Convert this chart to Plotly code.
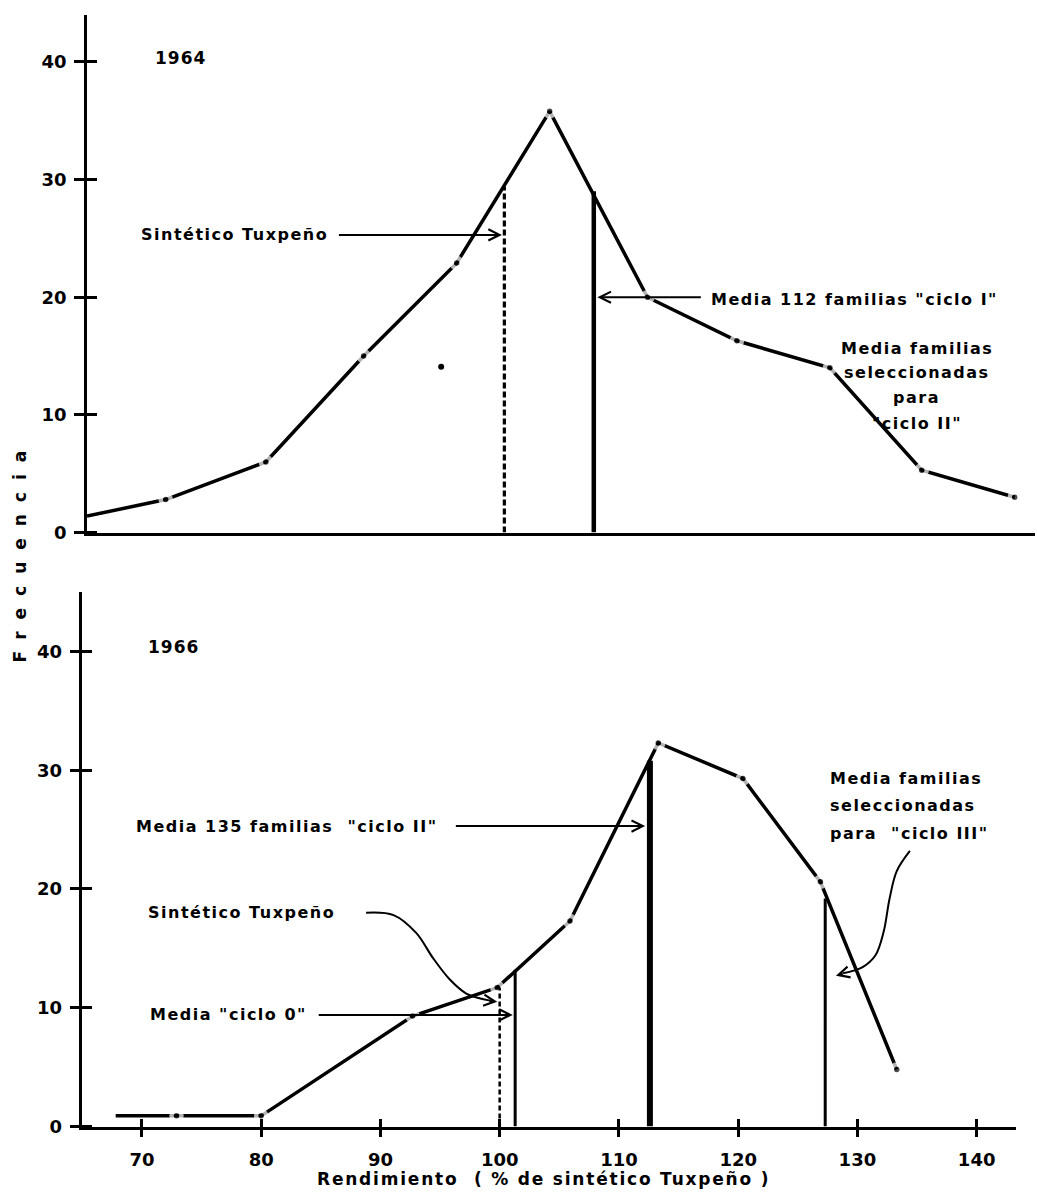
import plotly.graph_objects as go

W, H = 1037, 1201

# ---------------- data ----------------
# 1964 frequency polygon
yield_1964 = [65.0, 71.6, 80.0, 88.2, 96.0, 103.8, 112.0, 119.5, 127.3, 135.0, 142.8]
freq_1964 = [1.4, 2.8, 6.0, 15.0, 22.9, 35.8, 20.0, 16.3, 14.0, 5.3, 3.0]
stray_1964_x = [94.7]
stray_1964_y = [14.1]
# 1964 reference means
tuxpeno_1964 = 100.0
tuxpeno_1964_h = 29.4
ciclo1_mean = 107.5
ciclo1_mean_h = 29.0

# 1966 frequency polygon
yield_1966 = [67.8, 72.9, 80.0, 92.7, 99.8, 105.9, 113.3, 120.4, 126.9, 133.3]
freq_1966 = [0.9, 0.9, 0.9, 9.3, 11.7, 17.3, 32.3, 29.3, 20.6, 4.8]
# 1966 reference means
tuxpeno_1966 = 100.0
tuxpeno_1966_h = 11.7
ciclo0_mean = 101.3
ciclo0_mean_h = 13.2
ciclo2_mean = 112.6
ciclo2_mean_h = 30.8
ciclo3_sel = 127.3
ciclo3_sel_h = 19.2

y_ticks = [0, 10, 20, 30, 40]
x_ticks = [70, 80, 90, 100, 110, 120, 130, 140]
x_tick_labels = ["70", "80", "90", "100", "110", "120", "130", "140"]

# ---------------- styling ----------------
FONT = "DejaVu Sans"
INK = "black"


def sp(text, ls=1.5):
    return f'<span style="letter-spacing:{ls}px">{text}</span>'


fig = go.Figure()


def dots(n):
    # first vertex of each polygon is drawn without a dot
    return [0] + [10] * (n - 1)


fig.add_trace(go.Scatter(
    x=yield_1964, y=freq_1964, mode="lines+markers", xaxis="x", yaxis="y",
    line=dict(color=INK, width=3.5),
    marker=dict(size=dots(len(yield_1964)), color=INK,
                line=dict(color="white", width=4.5)),
    showlegend=False, hoverinfo="skip"))
fig.add_trace(go.Scatter(
    x=stray_1964_x, y=stray_1964_y, mode="markers", xaxis="x", yaxis="y",
    marker=dict(size=6, color=INK), showlegend=False, hoverinfo="skip"))

fig.add_trace(go.Scatter(
    x=[tuxpeno_1964, tuxpeno_1964], y=[0, tuxpeno_1964_h], mode="lines",
    xaxis="x", yaxis="y", line=dict(color=INK, width=3.2, dash="6px,3px"),
    showlegend=False, hoverinfo="skip"))
fig.add_trace(go.Scatter(
    x=[ciclo1_mean, ciclo1_mean], y=[0, ciclo1_mean_h], mode="lines",
    xaxis="x", yaxis="y", line=dict(color=INK, width=4.5),
    showlegend=False, hoverinfo="skip"))

fig.add_trace(go.Scatter(
    x=yield_1966, y=freq_1966, mode="lines+markers", xaxis="x2", yaxis="y2",
    line=dict(color=INK, width=3.5),
    marker=dict(size=dots(len(yield_1966)), color=INK,
                line=dict(color="white", width=4.5)),
    showlegend=False, hoverinfo="skip"))

fig.add_trace(go.Scatter(
    x=[tuxpeno_1966, tuxpeno_1966], y=[0, tuxpeno_1966_h], mode="lines",
    xaxis="x2", yaxis="y2", line=dict(color=INK, width=2.5, dash="5px,3px"),
    showlegend=False, hoverinfo="skip"))
for xv, hv, wv in [(ciclo0_mean, ciclo0_mean_h, 3), (ciclo2_mean, ciclo2_mean_h, 6),
                   (ciclo3_sel, ciclo3_sel_h, 3)]:
    fig.add_trace(go.Scatter(
        x=[xv, xv], y=[0, hv], mode="lines", xaxis="x2", yaxis="y2",
        line=dict(color=INK, width=wv), showlegend=False, hoverinfo="skip"))

# curved leader lines (annotation geometry)
lead_tux66_x = [88.8, 91.1, 93.0, 94.4, 95.8, 97.2, 99.2]
lead_tux66_y = [18.0, 17.8, 16.3, 14.2, 12.4, 11.2, 10.6]
lead_c3_x = [134.4, 133.3, 132.7, 132.2, 131.5, 130.4, 128.8]
lead_c3_y = [23.2, 21.5, 19.2, 16.4, 14.4, 13.4, 12.9]
for lx, ly in [(lead_tux66_x, lead_tux66_y), (lead_c3_x, lead_c3_y)]:
    fig.add_trace(go.Scatter(
        x=lx, y=ly, mode="lines", xaxis="x2", yaxis="y2",
        line=dict(color=INK, width=2, shape="spline"),
        showlegend=False, hoverinfo="skip"))

# ---------------- axes ----------------
def px_x(p):
    return p / W


def px_y(p):
    return (H - p) / H


tickfont = dict(family=FONT, size=18, color=INK, weight="bold")
common_y = dict(showline=True, linecolor=INK, linewidth=2.5, showgrid=False,
                zeroline=False, tickmode="array", tickvals=y_ticks,
                ticks="outside", ticklen=10, tickwidth=2.5, tickcolor=INK,
                minor=dict(ticks="inside", ticklen=10, tickwidth=2.5,
                           tickcolor=INK, tickmode="array", tickvals=y_ticks),
                tickfont=tickfont, ticklabelstandoff=4, fixedrange=True)

fig.update_layout(
    width=W, height=H, margin=dict(l=0, r=0, t=0, b=0),
    paper_bgcolor="white", plot_bgcolor="white",
    xaxis=dict(domain=[px_x(87), px_x(1035)], range=[65, 144.5], anchor="y",
               showline=True, linecolor=INK, linewidth=2.5, showgrid=False,
               zeroline=False, ticks="", showticklabels=False),
    yaxis=dict(domain=[px_y(537), px_y(15)], range=[0, 44], anchor="x", **common_y),
    xaxis2=dict(domain=[px_x(82.3), px_x(1016)], range=[65, 143.3], anchor="y2",
                showline=True, linecolor=INK, linewidth=2.5, showgrid=False,
                zeroline=False, tickmode="array", tickvals=x_ticks,
                ticktext=x_tick_labels, ticks="outside", ticklen=8,
                tickwidth=2.5, tickcolor=INK,
                minor=dict(ticks="inside", ticklen=8, tickwidth=2.5,
                           tickcolor=INK, tickmode="array", tickvals=x_ticks),
                tickfont=tickfont, ticklabelstandoff=7),
    yaxis2=dict(domain=[px_y(1136), px_y(597)], range=[0, 45], anchor="x2", **common_y),
)

# ---------------- text & arrows ----------------
tfont = dict(family=FONT, size=16, color=INK, weight="bold")
ann = []


def text(x, y, t, xr, yr, xanchor="left", size=16):
    f = dict(tfont)
    f["size"] = size
    ann.append(dict(x=x, y=y, xref=xr, yref=yr, text=t, showarrow=False,
                    xanchor=xanchor, yanchor="middle", font=f))


def arrow(x0, y0, x1, y1, xr, yr):
    ann.append(dict(x=x1, y=y1, ax=x0, ay=y0, xref=xr, yref=yr, axref=xr,
                    ayref=yr, text="", showarrow=True, arrowhead=5,
                    arrowsize=1.1, arrowwidth=2, arrowcolor=INK, standoff=0))


# 1964 panel
text(70.5, 40.3, sp("1964", 1), "x", "y", size=17)
text(85.4, 25.3, sp("Sintético Tuxpeño"), "x", "y", xanchor="right")
arrow(86.0, 25.3, 99.8, 25.3, "x", "y")
text(117.2, 19.8, sp('Media 112 familias "ciclo I"'), "x", "y")
arrow(116.6, 20.0, 107.8, 20.0, "x", "y")
sel_1964_lines = ["Media familias", "seleccionadas", "para", '"ciclo II"']
sel_1964_levels = [15.6, 13.6, 11.5, 9.3]
for t, lv in zip(sel_1964_lines, sel_1964_levels):
    text(134.6, lv, sp(t), "x", "y", xanchor="center")

# 1966 panel
text(70.3, 40.4, sp("1966", 1), "x2", "y2", size=17)
text(69.3, 25.3, sp('Media 135 familias  "ciclo II"'), "x2", "y2")
arrow(96.2, 25.3, 112.2, 25.3, "x2", "y2")
text(70.3, 18.0, sp("Sintético Tuxpeño"), "x2", "y2")
arrow(99.0, 10.6, 99.8, 10.5, "x2", "y2")
text(70.5, 9.4, sp('Media "ciclo 0"'), "x2", "y2")
arrow(84.7, 9.4, 101.1, 9.4, "x2", "y2")
sel_1966_lines = ["Media familias", "seleccionadas", 'para  "ciclo III"']
sel_1966_levels = [29.3, 27.0, 24.7]
for t, lv in zip(sel_1966_lines, sel_1966_levels):
    text(127.5, lv, sp(t), "x2", "y2")
arrow(128.9, 12.9, 128.2, 12.7, "x2", "y2")

# axis titles
ann.append(dict(x=px_x(20), y=px_y(555), xref="paper", yref="paper",
                xanchor="center", yanchor="middle",
                text=sp("Frecuencia", 12), textangle=-90, showarrow=False,
                font=dict(family=FONT, size=17, color=INK, weight="bold")))
ann.append(dict(x=px_x(543), y=px_y(1189), xref="paper", yref="paper",
                xanchor="center", yanchor="middle",
                text=sp("Rendimiento  ( % de sintético Tuxpeño )", 1.8), showarrow=False,
                font=dict(family=FONT, size=17, color=INK, weight="bold")))

fig.update_layout(annotations=ann)

fig.write_html("out.html")
